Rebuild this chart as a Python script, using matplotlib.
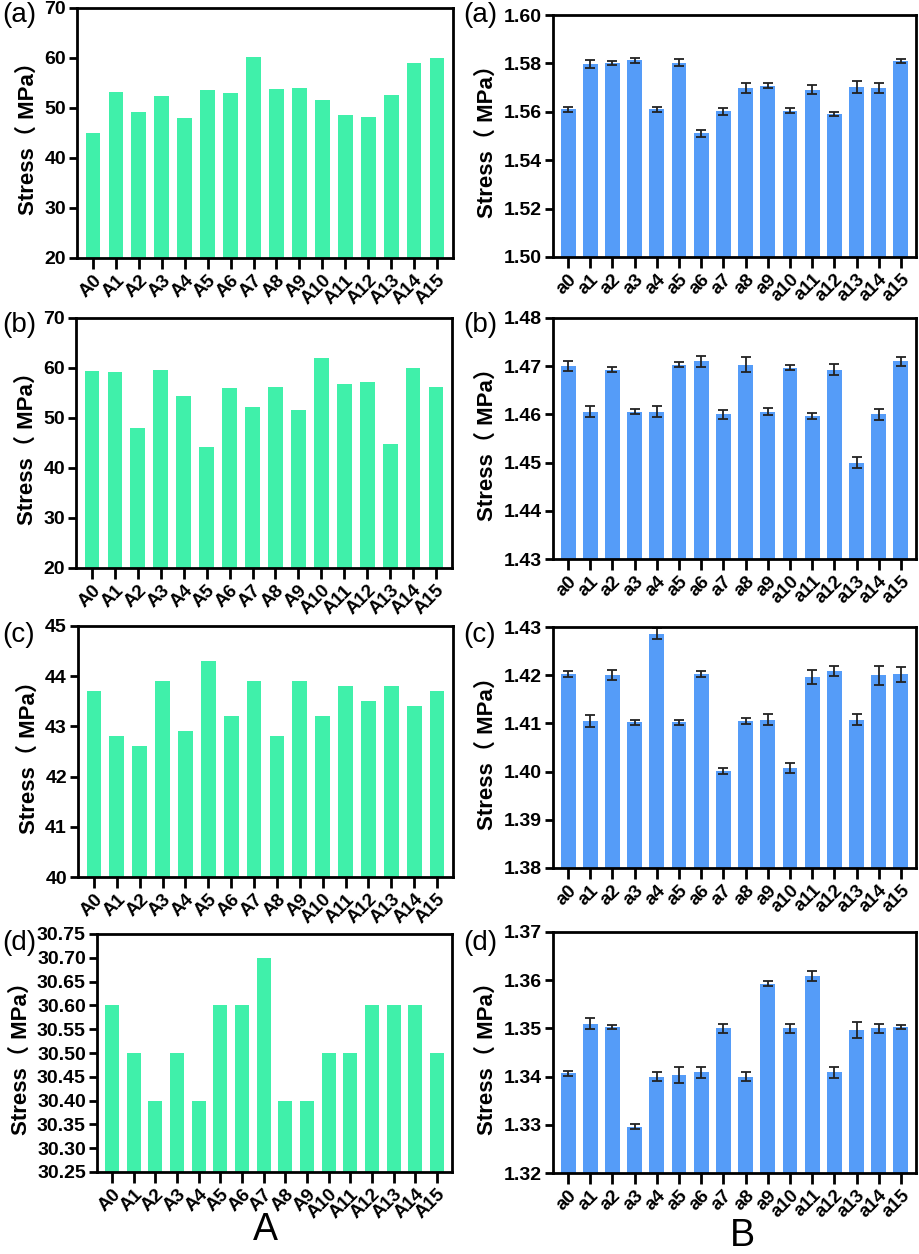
import numpy as np
import matplotlib
matplotlib.use("Agg")
import matplotlib.pyplot as plt

plt.rcParams['font.family'] = ['Liberation Sans', 'Noto Sans CJK SC', 'DejaVu Sans']

# data
cats_A = ["A%d" % i for i in range(16)]
cats_B = ["a%d" % i for i in range(16)]

A_a = [45.0, 53.3, 49.3, 52.5, 48.0, 53.7, 53.1, 60.3, 53.8, 54.1, 51.7, 48.6, 48.2, 52.7, 59.0, 60.0]
A_b = [59.5, 59.3, 48.0, 59.7, 54.5, 44.3, 56.1, 52.3, 56.3, 51.6, 62.1, 56.8, 57.3, 44.9, 60.0, 56.2]
A_c = [43.7, 42.8, 42.6, 43.9, 42.9, 44.3, 43.2, 43.9, 42.8, 43.9, 43.2, 43.8, 43.5, 43.8, 43.4, 43.7]
A_d = [30.6, 30.5, 30.4, 30.5, 30.4, 30.6, 30.6, 30.7, 30.4, 30.4, 30.5, 30.5, 30.6, 30.6, 30.6, 30.5]

B_a = [1.5610, 1.5797, 1.5801, 1.5812, 1.5610, 1.5803, 1.5511, 1.5602, 1.5699, 1.5708,
       1.5605, 1.5692, 1.5592, 1.5702, 1.5699, 1.5810]
B_a_err = [0.0010, 0.0015, 0.0008, 0.0010, 0.0010, 0.0015, 0.0015, 0.0015, 0.0020, 0.0009,
           0.0011, 0.0020, 0.0009, 0.0025, 0.0020, 0.0010]
B_b = [1.4700, 1.4606, 1.4693, 1.4606, 1.4606, 1.4703, 1.4710, 1.4600, 1.4703, 1.4606,
       1.4697, 1.4596, 1.4693, 1.4500, 1.4600, 1.4710]
B_b_err = [0.0010, 0.0011, 0.0005, 0.0006, 0.0011, 0.0005, 0.0011, 0.0010, 0.0016, 0.0007,
           0.0005, 0.0006, 0.0012, 0.0011, 0.0011, 0.0010]
B_c = [1.4202, 1.4105, 1.4200, 1.4102, 1.4286, 1.4102, 1.4202, 1.4002, 1.4105, 1.4108,
       1.4008, 1.4196, 1.4209, 1.4108, 1.4200, 1.4202]
B_c_err = [0.0006, 0.0012, 0.0010, 0.0006, 0.0011, 0.0006, 0.0006, 0.0006, 0.0006, 0.0011,
           0.0010, 0.0015, 0.0010, 0.0011, 0.0020, 0.0016]
B_d = [1.3407, 1.3510, 1.3503, 1.3296, 1.3400, 1.3403, 1.3409, 1.3500, 1.3400, 1.3593,
       1.3500, 1.3609, 1.3409, 1.3497, 1.3500, 1.3503]
B_d_err = [0.0005, 0.0011, 0.0005, 0.0005, 0.0010, 0.0016, 0.0011, 0.0010, 0.0010, 0.0005,
           0.0010, 0.0011, 0.0011, 0.0016, 0.0010, 0.0005]

GREEN = "#40f0aa"
BLUE = "#559cf8"

W, H = 920, 1254
fig = plt.figure(figsize=(W / 100, H / 100), dpi=100)


def box(l, t, r, b):
    return [l / W, 1 - b / H, (r - l) / W, (b - t) / H]


def style(ax, ylim, yticks, fmt, cats, pad):
    ax.set_ylim(*ylim)
    ax.set_yticks(yticks)
    ax.set_yticklabels([fmt % v for v in yticks], fontsize=14, fontweight="bold")
    ax.set_xticks(range(len(cats)))
    ax.set_xticklabels(cats, rotation=45, ha="right", rotation_mode="anchor",
                       fontsize=13.5, fontweight="bold")
    ax.set_xlim(-pad, len(cats) - 1 + pad)
    for s in ax.spines.values():
        s.set_linewidth(2)
    ax.tick_params(axis="both", direction="out", width=2, length=6, pad=2)
    ax.tick_params(axis="x", length=8)
    ax.set_ylabel("Stress（ MPa）", fontsize=16, fontweight="bold", labelpad=4)


panels_left = [
    (box(77, 8, 453, 258), A_a, (20, 70), [20, 30, 40, 50, 60, 70], "%d"),
    (box(76, 318, 452, 568), A_b, (20, 70), [20, 30, 40, 50, 60, 70], "%d"),
    (box(78, 626, 453, 877), A_c, (40, 45), [40, 41, 42, 43, 44, 45], "%d"),
    (box(97, 934, 452, 1172), A_d, (30.25, 30.75), list(np.arange(30.25, 30.76, 0.05)), "%.2f"),
]
panels_right = [
    (box(553, 15, 916, 257), B_a, B_a_err, (1.50, 1.60), [1.50, 1.52, 1.54, 1.56, 1.58, 1.60], "%.2f"),
    (box(553, 318, 916, 559), B_b, B_b_err, (1.43, 1.48), [1.43, 1.44, 1.45, 1.46, 1.47, 1.48], "%.2f"),
    (box(553, 627, 916, 868), B_c, B_c_err, (1.38, 1.43), [1.38, 1.39, 1.40, 1.41, 1.42, 1.43], "%.2f"),
    (box(553, 932, 916, 1173), B_d, B_d_err, (1.32, 1.37), [1.32, 1.33, 1.34, 1.35, 1.36, 1.37], "%.2f"),
]
letters = ["(a)", "(b)", "(c)", "(d)"]
label_y = [15, 325, 635, 943]

for i, (pos, vals, ylim, yt, fmt) in enumerate(panels_left):
    ax = fig.add_axes(pos)
    ax.bar(range(len(cats_A)), vals, width=0.65, color=GREEN, edgecolor="none")
    style(ax, ylim, yt, fmt, cats_A, 0.7)
    fig.text(2 / W, 1 - label_y[i] / H, letters[i], fontsize=20, va="center", ha="left")

for i, (pos, vals, err, ylim, yt, fmt) in enumerate(panels_right):
    ax = fig.add_axes(pos)
    ax.bar(range(len(cats_B)), vals, width=0.67, color=BLUE, edgecolor="none")
    ax.errorbar(range(len(cats_B)), vals, yerr=err, fmt="none", ecolor="#222222",
                elinewidth=1.3, capsize=3.5, capthick=1.3)
    style(ax, ylim, yt, fmt, cats_B, 0.68)
    fig.text(463 / W, 1 - label_y[i] / H, letters[i], fontsize=20, va="center", ha="left")

fig.text(265 / W, 1 - 1230 / H, "A", fontsize=27, ha="center", va="center")
fig.text(742 / W, 1 - 1236 / H, "B", fontsize=27, ha="center", va="center")

fig.savefig("out.png", dpi=100)
